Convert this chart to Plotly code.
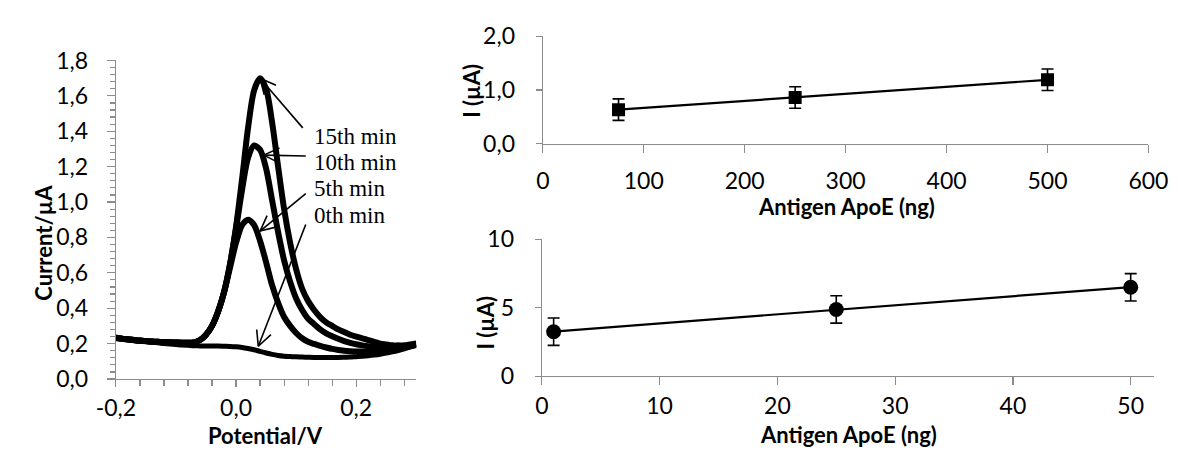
import numpy as np
import plotly.graph_objects as go

# Target canvas is 1189x459; the page keeps the browser's default 8px body
# margin, so the figure is sized to fit exactly inside it.
CANVAS_W, CANVAS_H = 1189, 459
OFF = 8
W, H = CANVAS_W - 2 * OFF, CANVAS_H - 2 * OFF

# ---------------- data: left panel (voltammograms) ----------------
potential = [-0.20, -0.19, -0.18, -0.17, -0.16, -0.15, -0.14, -0.13, -0.12, -0.11,
             -0.10, -0.09, -0.08, -0.07, -0.06, -0.05, -0.04, -0.03, -0.02, -0.01,
             0.00, 0.01, 0.02, 0.03, 0.04, 0.05, 0.06, 0.07, 0.08, 0.09,
             0.10, 0.11, 0.12, 0.13, 0.14, 0.15, 0.16, 0.17, 0.18, 0.19,
             0.20, 0.21, 0.22, 0.23, 0.24, 0.25, 0.26, 0.27, 0.28, 0.29, 0.30]

current_0min = [0.228, 0.224, 0.220, 0.216, 0.213, 0.210, 0.207, 0.204, 0.201, 0.198,
                0.195, 0.192, 0.190, 0.188, 0.187, 0.186, 0.186, 0.186, 0.185, 0.184,
                0.182, 0.178, 0.172, 0.165, 0.156, 0.147, 0.139, 0.133, 0.129, 0.127,
                0.125, 0.124, 0.123, 0.122, 0.122, 0.122, 0.122, 0.122, 0.123, 0.124,
                0.126, 0.128, 0.131, 0.135, 0.140, 0.146, 0.153, 0.161, 0.170, 0.181, 0.193]

current_5min = [0.233, 0.228, 0.224, 0.220, 0.217, 0.214, 0.212, 0.210, 0.208, 0.207,
                0.206, 0.205, 0.205, 0.207, 0.220, 0.250, 0.300, 0.380, 0.490, 0.630,
                0.770, 0.870, 0.900, 0.870, 0.780, 0.660, 0.530, 0.430, 0.350, 0.300,
                0.260, 0.230, 0.210, 0.198, 0.187, 0.178, 0.170, 0.164, 0.160, 0.157,
                0.155, 0.155, 0.156, 0.158, 0.161, 0.165, 0.169, 0.174, 0.179, 0.185, 0.192]

current_10min = [0.233, 0.228, 0.224, 0.220, 0.217, 0.214, 0.212, 0.210, 0.208, 0.207,
                 0.206, 0.205, 0.205, 0.207, 0.220, 0.250, 0.300, 0.380, 0.490, 0.650,
                 0.850, 1.070, 1.250, 1.320, 1.295, 1.190, 1.010, 0.830, 0.670, 0.550,
                 0.455, 0.390, 0.340, 0.310, 0.280, 0.258, 0.242, 0.227, 0.214, 0.204,
                 0.196, 0.190, 0.185, 0.182, 0.180, 0.178, 0.178, 0.180, 0.183, 0.188, 0.195]

current_15min = [0.233, 0.228, 0.224, 0.220, 0.217, 0.214, 0.212, 0.210, 0.208, 0.207,
                 0.206, 0.205, 0.205, 0.207, 0.220, 0.250, 0.300, 0.380, 0.490, 0.650,
                 0.860, 1.130, 1.420, 1.630, 1.700, 1.640, 1.450, 1.200, 0.960, 0.770,
                 0.620, 0.510, 0.440, 0.390, 0.350, 0.320, 0.300, 0.280, 0.265, 0.250,
                 0.240, 0.230, 0.220, 0.210, 0.200, 0.195, 0.190, 0.190, 0.190, 0.195, 0.200]

curve_sets = [current_0min, current_5min, current_10min, current_15min]

# callouts: text + arrow (tail -> tip) in data units
label_text = ["15th min", "10th min", "5th min", "0th min"]
label_v = [0.127, 0.127, 0.127, 0.127]
label_i = [1.368, 1.225, 1.075, 0.924]
arrow_tail_v = [0.111, 0.116, 0.116, 0.116]
arrow_tail_i = [1.419, 1.260, 1.048, 0.873]
arrow_tip_v = [0.040, 0.046, 0.040, 0.037]
arrow_tip_i = [1.699, 1.265, 0.836, 0.185]

left_xticks = [-0.2, 0.0, 0.2]
left_xtext = ["-0,2", "0,0", "0,2"]
left_yticks = [0.0, 0.2, 0.4, 0.6, 0.8, 1.0, 1.2, 1.4, 1.6, 1.8]
left_ytext = ["0,0", "0,2", "0,4", "0,6", "0,8", "1,0", "1,2", "1,4", "1,6", "1,8"]

# ---------------- data: top right (ng range 75-500) ----------------
apoe_high = [75, 250, 500]
i_high = [0.635, 0.86, 1.19]
i_high_err = [0.2, 0.2, 0.2]
top_xticks = [0, 100, 200, 300, 400, 500, 600]
top_yticks = [0, 1, 2]
top_ytext = ["0,0", "1,0", "2,0"]

# ---------------- data: bottom right (ng range 1-50) ----------------
apoe_low = [1, 25, 50]
i_low = [3.25, 4.88, 6.5]
i_low_err = [1.0, 1.0, 1.0]
bot_xticks = [0, 10, 20, 30, 40, 50]
bot_yticks = [0, 5, 10]

# ---------------- layout geometry (target canvas pixels) ----------------
AX_GREY = "#8c8c8c"
TICK_FONT = dict(family="Lato, 'Open Sans', sans-serif", size=23, color="black")
TITLE_FONT = dict(family="Lato, 'Open Sans', sans-serif", size=22, color="black")
SERIF = dict(family="'Liberation Serif', 'Times New Roman', serif", size=23, color="black")

L_X0, L_X1, L_Y0, L_Y1 = 99, 410, 388, 48      # left panel: px left/right, px bottom/top
T_X0, T_X1, T_Y0, T_Y1 = 541, 1168, 137, 22
B_X0, B_X1, B_Y0, B_Y1 = 540, 1174, 385, 239


def px_x(p):
    return (p - OFF) / W


def px_y(p):
    return 1 - (p - OFF) / H


def xdom(a, b):
    return [px_x(a), px_x(b)]


def ydom(bottom, top):
    return [px_y(bottom), px_y(top)]


left_xrange = [-0.2, 0.3]
left_yrange = [0.0, 1.8]

fig = go.Figure()

# voltammograms
for k, cur in enumerate(curve_sets):
    fig.add_trace(go.Scatter(
        x=potential, y=cur, mode="lines",
        line=dict(color="black", width=5 if k == 0 else 6, shape="spline", smoothing=0.8),
        xaxis="x", yaxis="y", showlegend=False, hoverinfo="skip"))

# arrows with open heads (wings computed in pixel space)
sx = (L_X1 - L_X0) / (left_xrange[1] - left_xrange[0])
sy = (L_Y0 - L_Y1) / (left_yrange[1] - left_yrange[0])
wing_len, wing_ang = 18.0, np.deg2rad(26)
for tv, ti, hv, hi in zip(arrow_tail_v, arrow_tail_i, arrow_tip_v, arrow_tip_i):
    tx, ty = tv * sx, ti * sy
    hx, hy = hv * sx, hi * sy
    d = np.array([tx - hx, ty - hy])
    d = d / np.linalg.norm(d)
    wings = []
    for s in (+1, -1):
        c, sn = np.cos(s * wing_ang), np.sin(s * wing_ang)
        r = np.array([c * d[0] - sn * d[1], sn * d[0] + c * d[1]])
        wx, wy = hx + wing_len * r[0], hy + wing_len * r[1]
        wings.append((wx / sx, wy / sy))
    xs = [tv, hv, None, wings[0][0], hv, wings[1][0]]
    ys = [ti, hi, None, wings[0][1], hi, wings[1][1]]
    fig.add_trace(go.Scatter(x=xs, y=ys, mode="lines",
                             line=dict(color="black", width=1.6),
                             xaxis="x", yaxis="y", showlegend=False,
                             hoverinfo="skip", cliponaxis=False))

# top right: squares + error bars + trend
fig.add_trace(go.Scatter(
    x=apoe_high, y=i_high, mode="markers",
    marker=dict(symbol="square", size=13, color="black"),
    error_y=dict(type="data", array=i_high_err, color="black", thickness=1.6, width=6),
    xaxis="x2", yaxis="y2", showlegend=False))
p_hi = np.polyfit(apoe_high, i_high, 1)
fig.add_trace(go.Scatter(
    x=[apoe_high[0], apoe_high[-1]], y=list(np.polyval(p_hi, [apoe_high[0], apoe_high[-1]])),
    mode="lines", line=dict(color="black", width=2.2),
    xaxis="x2", yaxis="y2", showlegend=False))

# bottom right: circles + error bars + trend
fig.add_trace(go.Scatter(
    x=apoe_low, y=i_low, mode="markers",
    marker=dict(symbol="circle", size=15, color="black"),
    error_y=dict(type="data", array=i_low_err, color="black", thickness=1.6, width=6),
    xaxis="x3", yaxis="y3", showlegend=False))
p_lo = np.polyfit(apoe_low, i_low, 1)
fig.add_trace(go.Scatter(
    x=[apoe_low[0], apoe_low[-1]], y=list(np.polyval(p_lo, [apoe_low[0], apoe_low[-1]])),
    mode="lines", line=dict(color="black", width=2.2),
    xaxis="x3", yaxis="y3", showlegend=False))

common = dict(showline=True, linecolor=AX_GREY, linewidth=1.2, ticks="outside",
              tickcolor=AX_GREY, tickwidth=1.2, showgrid=False, zeroline=False,
              tickfont=TICK_FONT, fixedrange=True)

fig.update_layout(
    width=W, height=H,
    margin=dict(l=0, r=0, t=0, b=0),
    paper_bgcolor="white", plot_bgcolor="rgba(0,0,0,0)",
    showlegend=False,
    xaxis=dict(domain=xdom(L_X0, L_X1), range=left_xrange, anchor="y",
               tickmode="array", tickvals=left_xticks, ticktext=left_xtext,
               ticklen=7, ticklabelstandoff=1,
               minor=dict(tickmode="linear", tick0=-0.2, dtick=0.04, ticks="outside",
                          ticklen=6, tickcolor=AX_GREY, tickwidth=1.2, showgrid=False),
               **common),
    yaxis=dict(domain=ydom(L_Y0, L_Y1), range=left_yrange, anchor="x",
               tickmode="array", tickvals=left_yticks, ticktext=left_ytext,
               ticklen=8, ticklabelstandoff=14,
               minor=dict(tickmode="linear", tick0=0, dtick=0.04, ticks="outside",
                          ticklen=5, tickcolor=AX_GREY, tickwidth=1.2, showgrid=False),
               **common),
    xaxis2=dict(domain=xdom(T_X0, T_X1), range=[0, 600], anchor="y2",
                tickmode="array", tickvals=top_xticks, ticklen=8, ticklabelstandoff=8,
                ticklabeloverflow="allow", **common),
    yaxis2=dict(domain=ydom(T_Y0, T_Y1), range=[0, 2], anchor="x2",
                tickmode="array", tickvals=top_yticks, ticktext=top_ytext,
                ticklen=6, ticklabelstandoff=16, **common),
    xaxis3=dict(domain=xdom(B_X0, B_X1), range=[0, 52], anchor="y3",
                tickmode="array", tickvals=bot_xticks, ticklen=8, ticklabelstandoff=1,
                **common),
    yaxis3=dict(domain=ydom(B_Y0, B_Y1), range=[0, 10], anchor="x3",
                tickmode="array", tickvals=bot_yticks,
                ticklen=6, ticklabelstandoff=16, **common),
)

bold = lambda s: "<b>" + s + "</b>"
titles = [
    ("Potential/V", 254, 448, 0),
    ("Current/µA", 24, 242, -90),
    ("Antigen ApoE (ng)", 855, 204, 0),
    ("I (µA)", 467, 80, -90),
    ("Antigen ApoE (ng)", 857, 447, 0),
    ("I (µA)", 482, 328, -90),
]
for txt, px, py, ang in titles:
    fig.add_annotation(text=bold(txt), x=px_x(px), y=px_y(py), xref="paper", yref="paper",
                       showarrow=False, textangle=ang, font=TITLE_FONT,
                       xanchor="center", yanchor="middle", borderpad=0)

for txt, v, i in zip(label_text, label_v, label_i):
    fig.add_annotation(text=txt, x=v, y=i, xref="x", yref="y", showarrow=False,
                       xanchor="left", yanchor="middle", font=SERIF)

fig.write_html("out.html", config={"displayModeBar": False, "staticPlot": True})
